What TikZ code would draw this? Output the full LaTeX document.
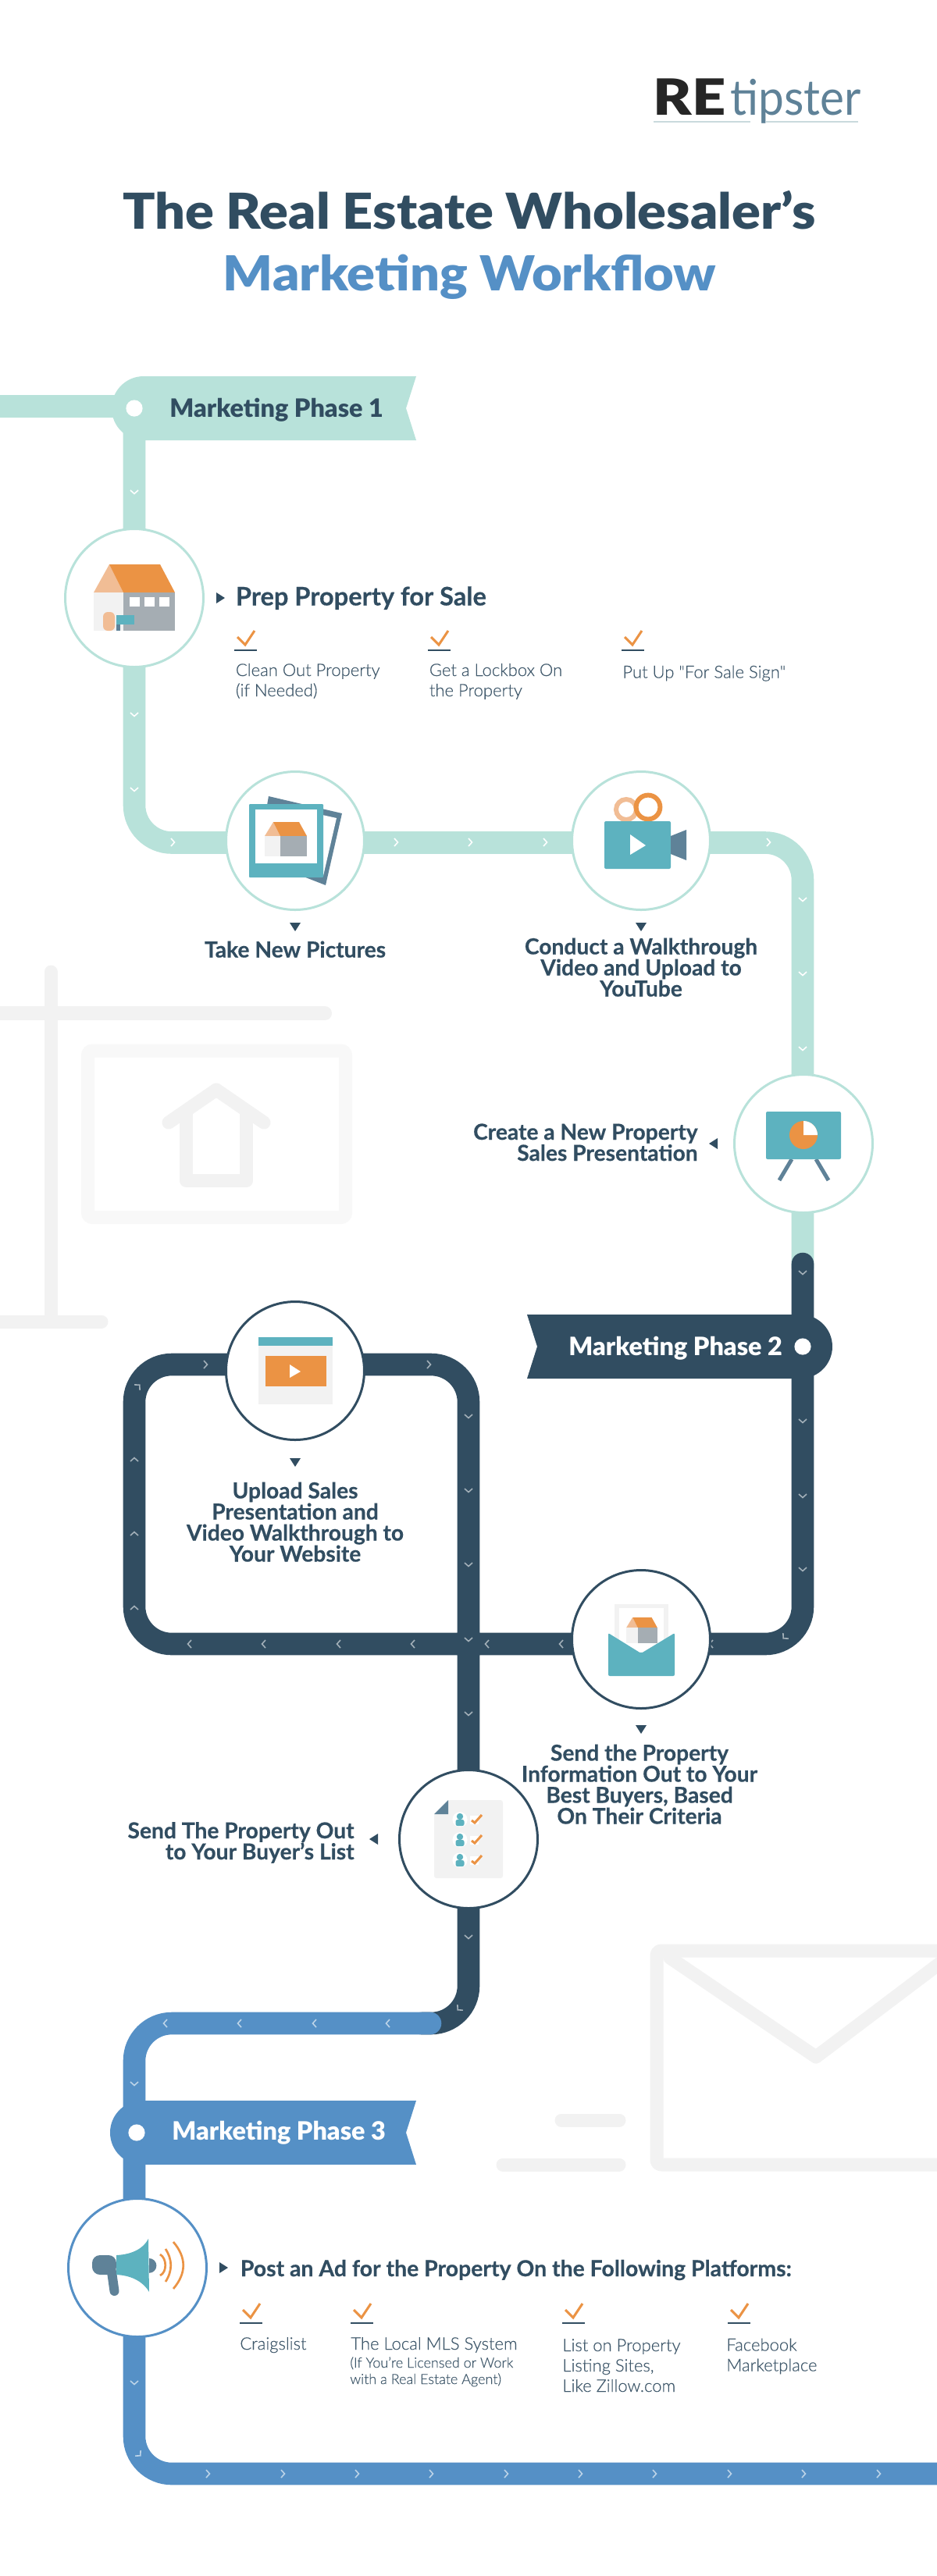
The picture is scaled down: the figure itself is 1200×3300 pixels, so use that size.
\documentclass[tikz,border=0pt]{standalone}
\usepackage{fontspec}
\setmainfont[BoldFeatures={FakeBold=0.4}]{Lato}
\newfontfamily\lightfont[FakeBold=0.25]{Lato Light}
\newfontfamily\heavyfont{Lato Black}
\newfontfamily\titlefont[FakeStretch=1.08]{Lato Black}
\newfontfamily\refont[FakeStretch=1.18]{Lato Black}
\newfontfamily\tipfont[FakeStretch=.93]{Lato}
\usetikzlibrary{positioning}
\definecolor{mint}{HTML}{B8E2DA}
\definecolor{navy}{HTML}{314D61}
\definecolor{skyb}{HTML}{5590C6}
\definecolor{orng}{HTML}{EB9344}
\definecolor{peach}{HTML}{F1BD95}
\definecolor{teal}{HTML}{5DB2BF}
\definecolor{steel}{HTML}{5F8298}
\definecolor{wallg}{HTML}{A5ADB3}
\definecolor{paleg}{HTML}{F2F2F2}
\definecolor{bodyt}{HTML}{3F586B}
\definecolor{rule}{HTML}{C9DADD}
\tikzstyle{stopa} = [circle, draw=mint, fill=white, line width=1.5pt, minimum size=88.5pt, inner sep=0]
\tikzstyle{stopb} = [stopa, draw=navy]
\tikzstyle{stopc} = [stopa, draw=skyb]
\tikzstyle{road} = [line width=14.3pt, rounded corners=24pt]
\tikzstyle{ghost} = [draw=paleg, line width=8.5pt, line cap=round]
\tikzstyle{phase} = [font=\fontsize{16.2}{19}\heavyfont, anchor=base west, inner sep=0]
\tikzstyle{head} = [font=\fontsize{16.3}{18}\selectfont\bfseries, text=navy, anchor=base west, inner sep=0]
\tikzstyle{capt} = [font=\fontsize{14.1}{13.5}\selectfont\bfseries, text=navy, align=center, anchor=base, inner sep=0]
\tikzstyle{captr} = [capt, align=right, anchor=base east]
\tikzstyle{item} = [font=\fontsize{11}{13}\lightfont, text=bodyt, align=left, anchor=base west, inner sep=0]
\tikzset{
  chev/.pic={\draw[line width=.8pt] (-2,-5) -- (2.5,0) -- (-2,5);},
  mark/.pic={\fill[navy] (-5,-7) -- (6,0) -- (-5,7) -- cycle;},
  tick/.pic={\draw[orng, line width=1.5pt] (4,-17) -- (14,-7) -- (26,-25);
    \draw[navy, line width=1.3pt] (0,0) -- (29,0);},
  smallhouse/.pic={
    \fill[peach] (0,18) -- (11,0) -- (20,18) -- cycle;
    \fill[orng] (11,0) -- (44,0) -- (54,18) -- (20,18) -- cycle;
    \fill[paleg] (0,18) rectangle (20,44);
    \fill[wallg] (20,18) rectangle (54,44);},
  person/.pic={
    \fill[white] (0,0) circle[radius=4.8pt];
    \fill[teal] (0,-4) circle[radius=2.1pt];
    \fill[teal, rounded corners=1.2pt] (-5.5,8) -- (-5.5,0) -- (5.5,0) -- (5.5,8) -- cycle;
    \fill[white] (13,-5) rectangle (24,6);
    \draw[orng, line width=1.5pt] (15,1) -- (19,4) -- (28,-6);}
}

\begin{document}
\begin{tikzpicture}[x=0.5pt, y=-0.5pt]
\useasboundingbox (0,0) rectangle (1200,3300);
\fill[white] (0,0) rectangle (1200,3300);

% background
\draw[ghost] (65,1245) -- (65,1690);
\draw[ghost, line width=9pt] (-20,1298) -- (416,1298);
\draw[ghost] (-20,1693) -- (130,1693);
\draw[draw=paleg!50, line width=8.5pt, rounded corners=3pt] (112.5,1346) rectangle (442.5,1559.5);
\draw[ghost, line join=round] (216,1438) -- (277,1396) -- (338,1438);
\draw[ghost, line join=round, line cap=butt] (238.5,1420) -- (238.5,1512.5) -- (315.5,1512.5) -- (315.5,1420);
\draw[ghost, line join=round, line cap=butt, rounded corners=3pt] (1300,2499) -- (841,2499) -- (841,2773) -- (1300,2773);
\draw[ghost, line join=round] (858,2508) -- (1045,2635) -- (1250,2480);
\draw[ghost] (719,2716) -- (793,2716);
\draw[ghost] (644,2773) -- (793,2773);

% roads
\coordinate (s1) at (0,520.5);
\coordinate (s2) at (172,520.5);
\coordinate (a1) at (172,523);
\coordinate (a2) at (172,1079.5);
\coordinate (a3) at (1028,1079.5);
\coordinate (a4) at (1028,1625);
\coordinate (b1) at (1028,1619);
\coordinate (b2) at (1028,2106);
\coordinate (b3) at (172,2106);
\coordinate (b4) at (172,1748);
\coordinate (b5) at (600,1748);
\coordinate (b6) at (600,2592);
\coordinate (b7) at (540,2592);
\coordinate (c1) at (551,2592);
\coordinate (c2) at (172,2592);
\coordinate (c3) at (172,3169);
\coordinate (c4) at (1210,3169);

\draw[road, mint] (s1) -- (s2);
\draw[road, mint] (a1) -- (a2) -- (a3) -- (a4);
\draw[road, navy, line cap=round] (b1) -- (b2) -- (b3) -- (b4) -- (b5) -- (b6) -- (b7);
\draw[road, skyb, line cap=round] (c1) -- (c2) -- (c3) -- (c4);

% chevrons
\foreach \y in {630,915,1011} \pic[white, rotate=-90] at (172,\y) {chev};
\foreach \x in {221,507,602,698,984} \pic[white] at (\x,1079) {chev};
\foreach \y in {1152,1247,1343} \pic[white, rotate=-90] at (1028,\y) {chev};
\foreach \y in {1630,1820,1916,2010} \pic[white!55!navy, rotate=-90] at (1028,\y) {chev};
\pic[white!55!navy, rotate=-135] at (1005,2097) {chev};
\foreach \x in {243,338,434,529,624,719,911} \pic[white!55!navy, rotate=180] at (\x,2106) {chev};
\foreach \y in {1870,1965,2060} \pic[white!55!navy, rotate=90] at (172,\y) {chev};
\pic[white!55!navy, rotate=45] at (177,1776) {chev};
\foreach \x in {263,549} \pic[white!55!navy] at (\x,1748) {chev};
\foreach \y in {1814,1909,2004,2100,2195,2481} \pic[white!55!navy, rotate=-90] at (600,\y) {chev};
\pic[white!55!navy, rotate=-135] at (588,2573) {chev};
\foreach \x in {212,307,403,497} \pic[white!60!skyb, rotate=180] at (\x,2592) {chev};
\foreach \y in {2669,3052} \pic[white!60!skyb, rotate=-90] at (172,\y) {chev};
\pic[white!60!skyb, rotate=-45] at (178,3144) {chev};
\foreach \x in {266,362,457,552,648,743,838,934,1029,1125} \pic[white!60!skyb] at (\x,3169) {chev};

% ribbons
\fill[mint] (533,482) -- (520,523) -- (533,564) -- (184,564) arc[start angle=270, end angle=90, radius=20.5pt] -- cycle;
\fill[navy] (675,1684) -- (688,1725) -- (675,1766) -- (1025,1766) arc[start angle=-90, end angle=90, radius=20.5pt] -- cycle;
\fill[skyb] (533,2691) -- (520,2732) -- (533,2773) -- (182,2773) arc[start angle=270, end angle=90, radius=20.5pt] -- cycle;
\fill[white] (172,523) circle[radius=5.3pt];
\fill[white] (1028,1725) circle[radius=5.3pt];
\fill[white] (175,2732) circle[radius=5.3pt];
\node[phase, text=navy] (phase1) at (217,534) {Marketing Phase 1};
\node[phase, text=white] (phase2) at (728,1736) {Marketing Phase 2};
\node[phase, text=white] (phase3) at (220,2741.5) {Marketing Phase 3};

% stops
\node[stopa] (prep) at (172,766) {};
\node[stopa] (pics) at (378,1077) {};
\node[stopa] (walk) at (821,1077) {};
\node[stopa] (pres) at (1029,1465) {};
\node[stopb] (upload) at (378,1756) {};
\node[stopb] (send) at (821,2100) {};
\node[stopb] (list) at (600,2356) {};
\node[stopc] (post) at (176,2905) {};

% house icon
\fill[peach] (120,759) -- (140,723) -- (158,759) -- cycle;
\fill[orng] (140,723) -- (205,723) -- (224,759) -- (158,759) -- cycle;
\fill[paleg] (120,759) rectangle (158,808);
\fill[wallg] (158,759) rectangle (224,808);
\foreach \x in {166,185,204} \fill[white] (\x,765) rectangle +(13,12);
\fill[peach, rounded corners=3pt] (132,808) -- (132,784) -- (147,784) -- (147,808) -- cycle;
\fill[steel] (149,800) rectangle (154,808);
\fill[teal] (149,788) rectangle (172,800);

% photo icon
\fill[steel] (344,1020) -- (438,1042) -- (417,1134) -- (330,1100) -- cycle;
\fill[white] (350,1030) -- (431,1048) -- (414,1122) -- (340,1100) -- cycle;
\fill[teal, rounded corners=.5pt] (319,1030) rectangle (414,1124);
\fill[white] (327,1037) rectangle (406,1106);
\pic at (339,1053) {smallhouse};

% camera icon
\draw[peach, line width=3pt] (802,1037) circle[radius=6.5pt];
\draw[orng, line width=3pt] (830,1034) circle[radius=7.7pt];
\fill[teal, rounded corners=1pt] (774,1052) rectangle (859,1113);
\fill[white] (807,1069) -- (827,1083) -- (807,1095) -- cycle;
\fill[steel] (859,1071) -- (879,1063) -- (879,1102) -- (859,1094) -- cycle;

% board icon
\draw[steel, line width=2.5pt] (1014,1485) -- (998,1512);
\draw[steel, line width=2.5pt] (1045,1485) -- (1061,1512);
\fill[teal, rounded corners=1pt] (981,1424) rectangle (1077,1485);
\fill[orng] (1029,1454) circle[radius=9pt];
\fill[white] (1029,1454) -- (1029,1436) arc[start angle=90, end angle=0, radius=9pt] -- cycle;

% page icon
\fill[paleg] (331,1713) rectangle (426,1799);
\fill[teal] (331,1713) rectangle (426,1724);
\fill[orng] (340,1737) rectangle (418,1776);
\fill[white] (371,1748) -- (385,1757) -- (371,1765) -- cycle;

% envelope icon
\fill[paleg] (787,2055) rectangle (856,2125);
\fill[white] (793,2060) rectangle (850,2120);
\pic[scale=.74] at (802,2072) {smallhouse};
\fill[teal, rounded corners=1pt] (779,2092) -- (821,2118) -- (864,2092) -- (864,2147) -- (779,2147) -- cycle;

% list icon
\fill[paleg, rounded corners=1.5pt] (574,2306) -- (644,2306) -- (644,2406) -- (556,2406) -- (556,2324) -- cycle;
\fill[steel] (556,2324) -- (574,2306) -- (574,2324) -- cycle;
\foreach \y in {2331,2357,2383} \pic at (589,\y) {person};

% megaphone icon
\draw[steel, line width=6pt, line cap=round] (143,2910) -- (146.5,2935);
\fill[steel] (191,2893) arc[start angle=90, end angle=-90, radius=4.7pt] -- cycle;
\fill[steel, rounded corners=5pt] (149,2889) -- (118,2889) -- (118,2914) -- (149,2914) -- cycle;
\fill[teal] (149,2889) .. controls (170,2888) and (184,2880) .. (190,2868) -- (191,2936) .. controls (184,2924) and (170,2915) .. (149,2914) -- cycle;
\draw[orng, line width=1.35pt] (205,2888) .. controls (214,2893) and (214,2911) .. (205,2915);
\draw[orng, line width=1.35pt] (212,2881) .. controls (221,2895) and (221,2909) .. (212,2923);
\draw[orng, line width=1.35pt] (222,2872) .. controls (239,2892) and (239,2912) .. (222,2932);

% markers
\pic[yshift=-10pt, rotate=-90] at (pics.south) {mark};
\pic[yshift=-10pt, rotate=-90] at (walk.south) {mark};
\pic[yshift=-13.5pt, rotate=-90] at (upload.south) {mark};
\pic[yshift=-12.5pt, rotate=-90] at (send.south) {mark};
\pic at (282,766) {mark};
\pic at (286,2905) {mark};
\pic[rotate=180] at (914,1465) {mark};
\pic[rotate=180] at (479,2356) {mark};

% texts
\node[head] (prephead) at (301.5,775.5) {Prep Property for Sale};
\node[head, font=\fontsize{14.2}{18}\selectfont\bfseries] (posthead) at (307.5,2916) {Post an Ad for the Property On the Following Platforms:};
\node[capt] (picscap) at (378,1226.5) {Take New Pictures};
\node[capt] (walkcap) at (821,1276.5) {Conduct a Walkthrough\\Video and Upload to\\YouTube};
\node[captr] (prescap) at (894,1487) {Create a New Property\\Sales Presentation};
\node[capt] (uploadcap) at (378,2000.5) {Upload Sales\\Presentation and\\Video Walkthrough to\\Your Website};
\node[capt] (sendcap) at (819,2336.5) {Send the Property\\Information Out to Your\\Best Buyers, Based\\On Their Criteria};
\node[captr] (listcap) at (454,2382) {Send The Property Out\\to Your Buyer's List};

\pic at (300,833) {tick};
\pic at (548,833) {tick};
\pic at (796,833) {tick};
\node[item] (clean) at (301.5,892) {Clean Out Property\\(if Needed)};
\node[item] (lockbox) at (549.5,892) {Get a Lockbox On\\the Property};
\node[item] (forsale) at (797,868.5) {Put Up "For Sale Sign"};

\pic at (307,2976) {tick};
\pic at (449,2976) {tick};
\pic at (720,2976) {tick};
\pic at (932,2976) {tick};
\node[item] (craigs) at (307,3010) {Craigslist};
\node[item] (mls) at (449,3010) {The Local MLS System};
\node[item, font=\fontsize{9}{10.5}\lightfont] (mlsnote) at (448,3054) {(If You’re Licensed or Work\\with a Real Estate Agent)};
\node[item] (listing) at (720,3064) {List on Property\\Listing Sites,\\Like Zillow.com};
\node[item] (facebook) at (930,3037.5) {Facebook\\Marketplace};

% title
\node[font=\fontsize{31.7}{36}\titlefont, text=navy, anchor=base, inner sep=0] (title1) at (601,293) {The Real Estate Wholesaler’s};
\node[font=\fontsize{30.9}{36}\titlefont, text=skyb, anchor=base, inner sep=0] (title2) at (601.5,372) {Marketing Workflow};

% logo
\node[font=\fontsize{32}{36}\refont, text=black!85, anchor=base west, inner sep=0] (logore) at (836,147) {RE};
\node[font=\fontsize{31.5}{36}\tipfont, text=steel, anchor=base west, inner sep=0] (logotip) at (935,147) {tipster};
\draw[rule, line width=1.2pt] (837,156) -- (961,156);
\draw[rule, line width=1.2pt] (981,156) -- (1099,156);
\end{tikzpicture}
\end{document}
